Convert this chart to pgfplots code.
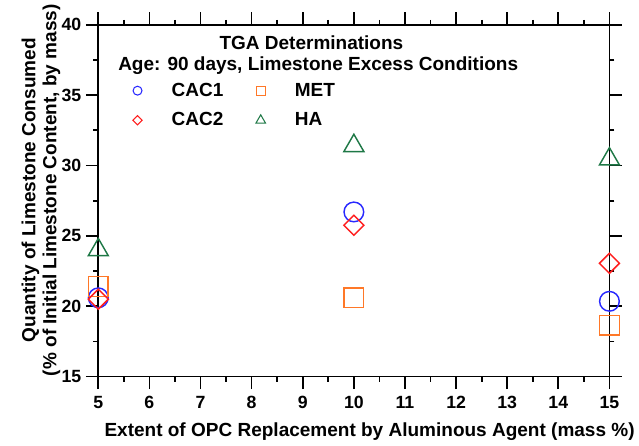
\documentclass[border=0pt]{standalone}
\usepackage{pgfplots}
\pgfplotsset{compat=1.18}
\usepackage{fontspec}
\setmainfont{Liberation Sans}
\definecolor{cblue}{RGB}{40,40,255}
\definecolor{cred}{RGB}{255,30,30}
\definecolor{corange}{RGB}{255,120,40}
\definecolor{cgreen}{RGB}{30,120,70}
\begin{document}
\begin{tikzpicture}
\begin{axis}[
  scale only axis, width=390pt, height=268.5pt,
  xmin=5, xmax=15, ymin=15, ymax=40,
  xtick={5,6,7,8,9,10,11,12,13,14,15}, ytick={15,20,25,30,35,40},
  minor xtick={5.5,6.5,7.5,8.5,9.5,10.5,11.5,12.5,13.5,14.5},
  minor ytick={17.5,22.5,27.5,32.5,37.5},
  xtick align=outside, ytick align=outside,
  xtick pos=both, ytick pos=both,
  major tick length=9.5pt, minor tick length=3.75pt,
  major tick style={draw=black, line width=1.3pt},
  minor tick style={draw=black, line width=1.3pt},
  axis line style={line width=1.3pt},
  xticklabel={\bfseries\pgfmathprintnumber[assume math mode=true]{\tick}},
  yticklabel={\bfseries\pgfmathprintnumber[assume math mode=true]{\tick}},
  tick label style={font=\fontsize{13.5}{15}\selectfont},
  xticklabel style={yshift=-2pt},
  xlabel={Extent of OPC Replacement by Aluminous Agent (mass \%)},
  ylabel={Quantity of Limestone Consumed\\(\% of Initial Limestone Content, by mass)},
  ylabel style={align=center, font=\fontsize{14.5}{16}\selectfont\bfseries, yshift=-6pt, xshift=8pt},
  xlabel style={font=\fontsize{14.5}{16}\selectfont\bfseries, yshift=-4pt, xshift=12pt},
  clip=false,
  legend columns=2,
  legend image code/.code={\draw[#1] plot coordinates {(0pt,0pt)}; \path[draw=none] (-4pt,0pt) -- (26pt,0pt);},
  legend style={draw=none, fill=none, at={(rel axis cs:0.066,0.835)}, anchor=north west,
    font=\fontsize{14.5}{16}\selectfont\bfseries, row sep=11pt, inner sep=0pt,
    nodes={text width=44pt, inner sep=0pt},
    /tikz/every even column/.append style={column sep=20pt}},
  legend cell align=left,
]
\addlegendimage{only marks, mark=o, cblue, mark size=3.4pt, line width=0.8pt}
\addlegendentry{CAC1}
\addlegendimage{only marks, mark=square, corange, mark size=3.4pt, line width=0.8pt}
\addlegendentry{MET}
\addlegendimage{only marks, mark=square, mark options={rotate=45}, cred, mark size=2.5pt, line width=0.8pt}
\addlegendentry{CAC2}
\addlegendimage{only marks, mark=triangle, cgreen, mark size=4.2pt, line width=0.8pt}
\addlegendentry{HA}

\addplot[forget plot, only marks, mark=o, cblue, mark size=7.5pt, line width=1.1pt]
  coordinates {(5,20.6) (10,26.7) (15,20.35)};
\addplot[forget plot, only marks, mark=square, corange, mark size=7.5pt, line width=1.1pt]
  coordinates {(5,21.4) (10,20.6) (15,18.65)};
\addplot[forget plot, only marks, mark=square, mark options={rotate=45}, cred, mark size=5.4pt, line width=1.1pt]
  coordinates {(5,20.5) (10,25.75) (15,23.05)};
\addplot[forget plot, only marks, mark=triangle, cgreen, mark size=8.8pt, line width=1.1pt]
  coordinates {(5,24.0) (10,31.4) (15,30.45)};

% tick marks (outside, all four sides)
\pgfplotsinvokeforeach{5,6,7,8,9,10,11,12,13,14,15}{
  \draw[black, line width=1.3pt] (axis cs:#1,15) -- ++(0pt,-9.5pt);
  \draw[black, line width=1.3pt] (axis cs:#1,40) -- ++(0pt,9.5pt);
}
\pgfplotsinvokeforeach{5.5,6.5,7.5,8.5,9.5,10.5,11.5,12.5,13.5,14.5}{
  \draw[black, line width=1.3pt] (axis cs:#1,15) -- ++(0pt,-3.75pt);
  \draw[black, line width=1.3pt] (axis cs:#1,40) -- ++(0pt,3.75pt);
}
\pgfplotsinvokeforeach{15,20,25,30,35,40}{
  \draw[black, line width=1.3pt] (axis cs:5,#1) -- ++(-9.5pt,0pt);
  \draw[black, line width=1.3pt] (axis cs:15,#1) -- ++(9.5pt,0pt);
}
\pgfplotsinvokeforeach{17.5,22.5,27.5,32.5,37.5}{
  \draw[black, line width=1.3pt] (axis cs:5,#1) -- ++(-3.75pt,0pt);
  \draw[black, line width=1.3pt] (axis cs:15,#1) -- ++(3.75pt,0pt);
}

\node[font=\fontsize{14.5}{16}\selectfont\bfseries] at (rel axis cs:0.417,0.95) {TGA Determinations};
\node[font=\fontsize{14.5}{16}\selectfont\bfseries, anchor=west] at (rel axis cs:0.03,0.883) {Age: 90 days, Limestone Excess Conditions};

% page margins matching the reference frame
\path (rel axis cs:0,1) ++(-75pt,15pt);
\path (rel axis cs:1,0) ++(12.75pt,-50pt);
\end{axis}
\end{tikzpicture}
\end{document}
